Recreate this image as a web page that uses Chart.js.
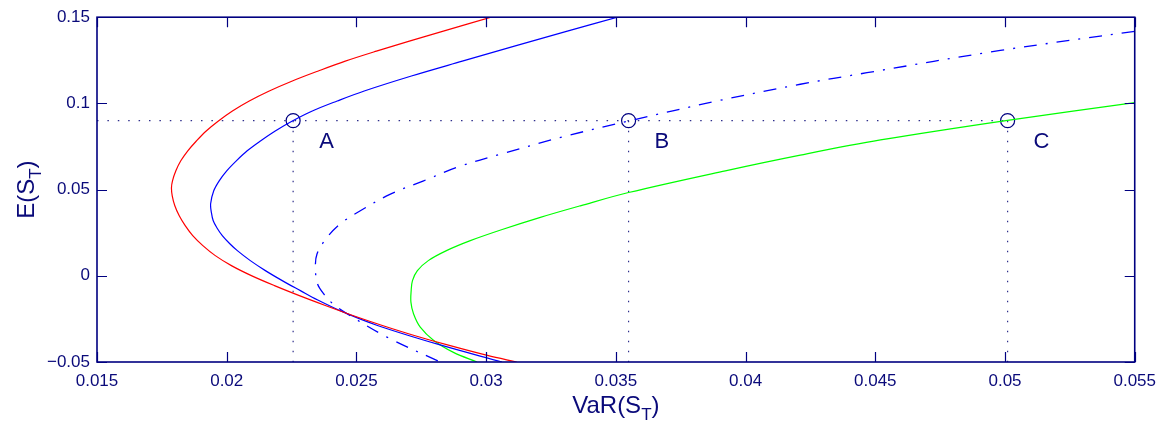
<!DOCTYPE html>
<html><head><meta charset="utf-8">
<script src="https://cdn.jsdelivr.net/npm/chart.js@4.4.1/dist/chart.umd.min.js"></script>
<style>html,body{margin:0;padding:0;background:#fff}#wrap{width:1165px;height:429px}</style>
</head><body><div id="wrap"><canvas id="c" width="1165" height="429"></canvas></div>
<script>
// ---- data ----
const xTickValues = [0.015,0.02,0.025,0.03,0.035,0.04,0.045,0.05,0.055];
const xTickLabels = ['0.015','0.02','0.025','0.03','0.035','0.04','0.045','0.05','0.055'];
const yTickValues = [-0.05,0,0.05,0.1,0.15];
const yTickLabels = ['\u22120.05','0','0.05','0.1','0.15'];

const redX = [0.03019,0.02835,0.02704,0.02577,0.02457,0.02353,0.02253,0.02164,0.02087,0.02022,0.01968,0.01921,0.01883,0.01850,0.01823,0.01804,0.01791,0.01787,0.01790,0.01800,0.01817,0.01840,0.01869,0.01908,0.01956,0.02018,0.02095,0.02184,0.02280,0.02380,0.02486,0.02600,0.02723,0.02858,0.03005,0.03118];
const redY = [0.1500,0.1419,0.1361,0.1303,0.1245,0.1188,0.1130,0.1072,0.1014,0.0956,0.0898,0.0840,0.0782,0.0725,0.0667,0.0609,0.0551,0.0510,0.0464,0.0406,0.0348,0.0291,0.0233,0.0175,0.0117,0.0059,0.0001,-0.0057,-0.0115,-0.0172,-0.0230,-0.0288,-0.0346,-0.0404,-0.0462,-0.0500];

const blueX = [0.03506,0.03313,0.03109,0.02908,0.02712,0.02530,0.02426,0.02330,0.02253,0.02187,0.02130,0.02079,0.02037,0.02000,0.01971,0.01950,0.01938,0.01941,0.01948,0.01962,0.01983,0.02012,0.02041,0.02091,0.02149,0.02214,0.02284,0.02349,0.02450,0.02581,0.02816,0.03061];
const blueY = [0.1500,0.1419,0.1332,0.1245,0.1159,0.1072,0.1014,0.0956,0.0898,0.0840,0.0782,0.0725,0.0667,0.0609,0.0551,0.0493,0.0418,0.0366,0.0319,0.0279,0.0233,0.0186,0.0146,0.0088,0.0030,-0.0028,-0.0086,-0.0139,-0.0211,-0.0288,-0.0398,-0.0500];

const dashX = [0.05500,0.04982,0.04468,0.04211,0.03890,0.03549,0.03296,0.03055,0.02893,0.02759,0.02631,0.02515,0.02438,0.02387,0.02348,0.02342,0.02350,0.02374,0.02410,0.02464,0.02618,0.02823];
const dashY = [0.1418,0.1307,0.1178,0.1111,0.1014,0.0898,0.0806,0.0705,0.0632,0.0551,0.0474,0.0377,0.0302,0.0223,0.0127,0.0040,-0.0047,-0.0105,-0.0163,-0.0220,-0.0356,-0.0500];

const greenX = [0.05500,0.05010,0.04520,0.04211,0.03922,0.03549,0.03363,0.03209,0.03059,0.02939,0.02847,0.02777,0.02735,0.02716,0.02711,0.02710,0.02720,0.02746,0.02798,0.02874,0.02965];
const greenY = [0.1004,0.0902,0.0788,0.0700,0.0609,0.0483,0.0406,0.0339,0.0267,0.0204,0.0146,0.0088,0.0030,-0.0028,-0.0086,-0.0153,-0.0220,-0.0298,-0.0375,-0.0444,-0.0500];

const markNames = ['A','B','C'];
const markX = [0.02256,0.03549,0.05010];
const markY = [0.09,0.09,0.09];
const yMin = -0.05, yMax = 0.15, xMin = 0.015, xMax = 0.055;

// ---- build ----
const pts = (xs, ys) => xs.map((x, i) => ({x, y: ys[i]}));
const NAVY = '#000080';
const TXT = '#0a0a7a';
const DOT = '#2e2e8c';
const FONT = '"Liberation Sans", Arial, Helvetica, sans-serif';

const datasets = [];
datasets.push({data: pts(redX, redY), borderColor: '#ff0000', borderWidth: 1.2, tension: 0.35});
datasets.push({data: pts(blueX, blueY), borderColor: '#0000ff', borderWidth: 1.2, tension: 0.35});
datasets.push({data: pts(dashX, dashY), borderColor: '#0000ff', borderWidth: 1.3, tension: 0.35, borderDash: [13,9,2,9]});
datasets.push({data: pts(greenX, greenY), borderColor: '#00ff00', borderWidth: 1.2, tension: 0.35});
// dotted guides
datasets.push({data: [{x: xMin, y: markY[0]}, {x: markX[2], y: markY[2]}], borderColor: DOT, borderWidth: 1.2, borderDash: [1.5, 8.9], tension: 0});
markX.forEach((mx, i) => {
  datasets.push({data: [{x: mx, y: markY[i]}, {x: mx, y: yMin}], borderColor: DOT, borderWidth: 1.2, borderDash: [1.5, 8.5], tension: 0});
});
// circle markers
datasets.push({data: pts(markX, markY), showLine: false, pointRadius: 7, pointStyle: 'circle', pointBorderColor: NAVY, pointBackgroundColor: 'rgba(0,0,0,0)', pointBorderWidth: 1.2});

datasets.forEach(d => {
  if (d.showLine === undefined) d.showLine = true;
  if (d.pointRadius === undefined) d.pointRadius = 0;
  d.fill = false;
});

function drawSubText(ctx, main, sub, close, size, subSize, subDrop) {
  ctx.font = size + 'px ' + FONT;
  const w1 = ctx.measureText(main).width;
  const w3 = ctx.measureText(close).width;
  ctx.font = subSize + 'px ' + FONT;
  const w2 = ctx.measureText(sub).width;
  const total = w1 + w2 + w3;
  let x = -total / 2;
  ctx.textAlign = 'left';
  ctx.textBaseline = 'alphabetic';
  ctx.font = size + 'px ' + FONT;
  ctx.fillText(main, x, 0); x += w1;
  ctx.font = subSize + 'px ' + FONT;
  ctx.fillText(sub, x, subDrop); x += w2;
  ctx.font = size + 'px ' + FONT;
  ctx.fillText(close, x, 0);
}

const decor = {
  id: 'decor',
  afterDatasetsDraw(chart) {
    const {ctx, chartArea: a, scales: {x, y}} = chart;
    ctx.save();
    // box
    ctx.strokeStyle = NAVY;
    ctx.lineWidth = 1.6;
    ctx.strokeRect(a.left, a.top, a.right - a.left, a.bottom - a.top);
    // inward ticks
    ctx.lineWidth = 1.2;
    ctx.beginPath();
    xTickValues.forEach(v => {
      const px = Math.round(x.getPixelForValue(v)) + 0.5;
      ctx.moveTo(px, a.bottom); ctx.lineTo(px, a.bottom - 10);
      ctx.moveTo(px, a.top); ctx.lineTo(px, a.top + 10);
    });
    yTickValues.forEach(v => {
      const py = Math.round(y.getPixelForValue(v)) + 0.5;
      ctx.moveTo(a.left, py); ctx.lineTo(a.left + 10, py);
      ctx.moveTo(a.right, py); ctx.lineTo(a.right - 10, py);
    });
    ctx.stroke();
    // point labels
    ctx.fillStyle = TXT;
    ctx.font = '22px ' + FONT;
    ctx.textAlign = 'left';
    ctx.textBaseline = 'alphabetic';
    markNames.forEach((n, i) => {
      const px = x.getPixelForValue(markX[i]);
      const py = y.getPixelForValue(markY[i]);
      ctx.fillText(n, px + 26, py + 27);
    });
    // axis titles with subscripts
    ctx.save();
    ctx.translate((a.left + a.right) / 2, 413);
    drawSubText(ctx, 'VaR(S', 'T', ')', 24, 17, 7);
    ctx.restore();
    ctx.save();
    ctx.translate(34, (a.top + a.bottom) / 2);
    ctx.rotate(-Math.PI / 2);
    drawSubText(ctx, 'E(S', 'T', ')', 24, 17, 7);
    ctx.restore();
    ctx.restore();
  }
};

new Chart(document.getElementById('c'), {
  type: 'scatter',
  data: {datasets},
  options: {
    responsive: false,
    animation: false,
    devicePixelRatio: 1,
    layout: {padding: {top: 16, right: 30, left: 0, bottom: 0}},
    plugins: {legend: {display: false}, tooltip: {enabled: false}},
    scales: {
      x: {
        type: 'linear', min: xMin, max: xMax,
        afterBuildTicks: s => { s.ticks = xTickValues.map(v => ({value: v})); },
        afterFit: s => { s.height = 67; },
        grid: {display: false, drawTicks: false},
        border: {display: false},
        ticks: {
          color: TXT, padding: 9, maxRotation: 0, autoSkip: false,
          font: {size: 17, family: FONT},
          callback: (v, i) => xTickLabels[i]
        }
      },
      y: {
        type: 'linear', min: yMin, max: yMax,
        afterBuildTicks: s => { s.ticks = yTickValues.map(v => ({value: v})); },
        afterFit: s => { s.width = 97; },
        grid: {display: false, drawTicks: false},
        border: {display: false},
        ticks: {
          color: TXT, padding: 7, autoSkip: false,
          font: {size: 17, family: FONT},
          callback: (v, i) => yTickLabels[i]
        }
      }
    }
  },
  plugins: [decor]
});
</script>
</body></html>
